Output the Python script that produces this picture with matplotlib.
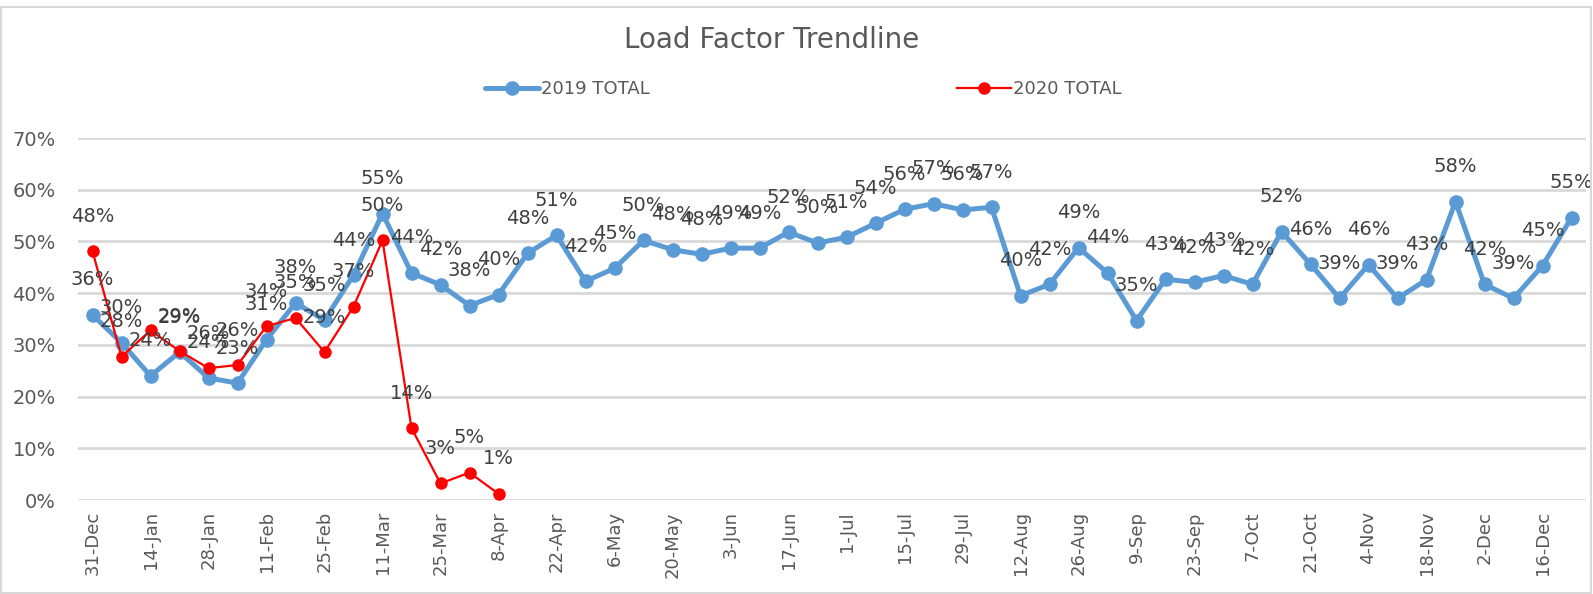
import matplotlib
matplotlib.use("Agg")
import matplotlib.pyplot as plt
from matplotlib.patches import Rectangle

categories = ["31-Dec", "7-Jan", "14-Jan", "21-Jan", "28-Jan", "4-Feb", "11-Feb", "18-Feb",
              "25-Feb", "4-Mar", "11-Mar", "18-Mar", "25-Mar", "1-Apr", "8-Apr", "15-Apr",
              "22-Apr", "29-Apr", "6-May", "13-May", "20-May", "27-May", "3-Jun", "10-Jun",
              "17-Jun", "24-Jun", "1-Jul", "8-Jul", "15-Jul", "22-Jul", "29-Jul", "5-Aug",
              "12-Aug", "19-Aug", "26-Aug", "2-Sep", "9-Sep", "16-Sep", "23-Sep", "30-Sep",
              "7-Oct", "14-Oct", "21-Oct", "28-Oct", "4-Nov", "11-Nov", "18-Nov", "25-Nov",
              "2-Dec", "9-Dec", "16-Dec", "23-Dec"]

total_2019 = [35.8, 30.4, 24.0, 28.6, 23.6, 22.6, 31.0, 38.1, 34.8, 43.5, 55.4, 43.9,
              41.6, 37.6, 39.7, 47.7, 51.2, 42.3, 44.8, 50.2, 48.4, 47.5, 48.7, 48.7,
              51.8, 49.7, 50.8, 53.5, 56.2, 57.3, 56.1, 56.6, 39.5, 41.7, 48.8, 43.9,
              34.7, 42.7, 42.1, 43.4, 41.7, 51.9, 45.6, 39.0, 45.5, 39.0, 42.6, 57.7,
              41.7, 39.0, 45.3, 54.6]

total_2020 = [48.1, 27.7, 32.8, 28.8, 25.5, 26.1, 33.6, 35.2, 28.6, 37.4, 50.2, 13.9,
              3.2, 5.3, 1.2]

hidden_2020_labels = [2]

series_names = ["2019 TOTAL", "2020 TOTAL"]
title = "Load Factor Trendline"
yticks = [0, 10, 20, 30, 40, 50, 60, 70]

BLUE = "#5B9BD5"
RED = "#FF0000"
GRID = "#D9D9D9"
TXT = "#595959"
LBL = "#404040"

fig = plt.figure(figsize=(15.93, 5.94), dpi=100)
ax = fig.add_axes([78 / 1593, 1 - 500 / 594, (1586 - 78) / 1593, (500 - 138) / 594])

x19 = list(range(len(total_2019)))
x20 = list(range(len(total_2020)))

ax.plot(x19, total_2019, color=BLUE, lw=3.6, marker="o", ms=9.5, mfc=BLUE, mec=BLUE,
        label=series_names[0], zorder=3, solid_capstyle="round")
ax.plot(x20, total_2020, color=RED, lw=1.6, marker="o", ms=8, mfc=RED, mec=RED,
        label=series_names[1], zorder=4)

for xi, v in zip(x19, total_2019):
    ax.annotate(f"{round(v)}%", (xi, v), xytext=(0, 35), textcoords="offset pixels",
                ha="center", va="center", fontsize=14, color=LBL, zorder=5)
for xi, v in zip(x20, total_2020):
    if xi in hidden_2020_labels:
        continue
    ax.annotate(f"{round(v)}%", (xi, v), xytext=(0, 35), textcoords="offset pixels",
                ha="center", va="center", fontsize=14, color=LBL, zorder=5)

ax.set_xlim(-0.5, len(categories) - 0.5)
ax.set_ylim(0, 70)
ax.set_yticks(yticks)
ax.set_yticklabels([f"{t}%" for t in yticks])
ax.set_xticks(x19[::2])
ax.set_xticklabels(categories[::2], rotation=90)
ax.tick_params(axis="x", length=0, pad=8, labelsize=13, labelcolor=TXT)
ax.tick_params(axis="y", length=0, pad=16, labelsize=14, labelcolor=TXT)
ax.yaxis.grid(True, color=GRID, lw=2)
ax.set_axisbelow(True)
for s in ax.spines.values():
    s.set_visible(False)

fig.text(772 / 1593, 1 - 40 / 594, title, ha="center", va="center", fontsize=20, color=TXT)

leg = fig.legend(loc="center", bbox_to_anchor=(803 / 1593, 1 - 89 / 594), ncol=2,
                 frameon=False, fontsize=13, handlelength=3.0, handletextpad=0.1,
                 columnspacing=17, labelcolor=TXT)

fig.patches.append(Rectangle((1 / 1593, 1 / 594), 1 - 3 / 1593, 1 - 8 / 594,
                             transform=fig.transFigure, fill=False, ec=GRID, lw=1.5))

fig.savefig("out.png", dpi=100)
